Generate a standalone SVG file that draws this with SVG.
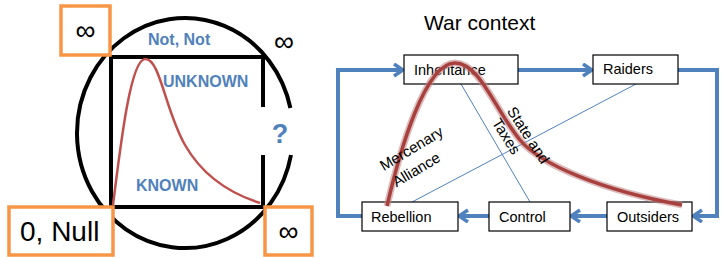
<svg xmlns="http://www.w3.org/2000/svg" width="724" height="258" viewBox="0 0 724 258">
<style>
.obox{fill:#fff;stroke:#F79646;stroke-width:3.5}
.sym{font-family:"Liberation Sans",Arial,sans-serif;font-size:28px;fill:#000;text-anchor:middle}
.blue{font-family:"Liberation Sans",Arial,sans-serif;font-weight:bold;font-size:16px;fill:#4F81BD}
.q{font-family:"Liberation Sans",Arial,sans-serif;font-weight:bold;font-size:27px;fill:#4F81BD;text-anchor:middle}
.box{fill:#fff;stroke:#000;stroke-width:1.2}
.lbl{font-family:"Liberation Sans",Arial,sans-serif;font-size:14.5px;fill:#000}
.rot{font-family:"Liberation Sans",Arial,sans-serif;font-size:15px;fill:#000;text-anchor:middle}
.flow{fill:none;stroke:#4F81BD;stroke-width:4;marker-end:url(#arr)}
.thin{fill:none;stroke:#4F81BD;stroke-width:1}
</style>
<defs>
<marker id="arr" markerUnits="userSpaceOnUse" markerWidth="14" markerHeight="16" refX="11" refY="7" orient="auto">
<path d="M2,1 L11,7 L2,13" fill="none" stroke="#4F81BD" stroke-width="3.5"/>
</marker>
</defs>
<rect width="724" height="258" fill="#fff"/>

<g id="left-figure">
<path d="M290.4,108 A108,115 0 1,0 291,155" fill="none" stroke="#000" stroke-width="4"/>
<path d="M263,107 V57 H111 V207 H263 V155" fill="none" stroke="#000" stroke-width="4"/>
<path d="M113,205 C120,150 130,60 145,59 C160,58 165,110 185,145 C205,180 235,195 260,203" fill="none" stroke="#C0504D" stroke-width="2.5"/>
<text class="blue" x="148" y="45">Not, Not</text>
<text class="blue" x="163" y="87">UNKNOWN</text>
<text class="blue" x="136" y="191">KNOWN</text>
<text class="q" x="280" y="143">?</text>
<text class="sym" x="284" y="51">∞</text>
</g>
<g id="inf-top-left">
<rect class="obox" x="61" y="6" width="49" height="49"/>
<text class="sym" x="85.5" y="40">∞</text>
</g>
<g id="zero-null">
<rect class="obox" x="9" y="207" width="104" height="48"/>
<text x="20" y="241" font-family="'Liberation Sans',Arial,sans-serif" font-size="28" fill="#000">0, Null</text>
</g>
<g id="inf-bottom-right">
<rect class="obox" x="265" y="207" width="47" height="48"/>
<text class="sym" x="288.5" y="241">∞</text>
</g>

<g id="title">
<text x="424" y="30" font-family="'Liberation Sans',Arial,sans-serif" font-size="21" fill="#000">War context</text>
</g>

<g id="connectors">
<path class="flow" d="M362,216 H338 V70 H403"/>
<path class="flow" d="M518,70 H592"/>
<path class="flow" d="M678,70 H717 V216 H693"/>
<path class="flow" d="M607,216 H571"/>
<path class="flow" d="M489,216 H459"/>
<line class="thin" x1="461" y1="84" x2="530" y2="202"/>
<line class="thin" x1="636" y1="84" x2="412" y2="202"/>
</g>

<g id="inheritance">
<rect class="box" x="404" y="55" width="114" height="29"/>
<text class="lbl" x="414" y="75">Inheritance</text>
</g>
<g id="raiders">
<rect class="box" x="593" y="55" width="85" height="29"/>
<text class="lbl" x="603" y="74">Raiders</text>
</g>
<g id="rebellion">
<rect class="box" x="362" y="202" width="96" height="29"/>
<text class="lbl" x="371" y="222">Rebellion</text>
</g>
<g id="control">
<rect class="box" x="489" y="202" width="81" height="29"/>
<text class="lbl" x="499" y="222">Control</text>
</g>
<g id="outsiders">
<rect class="box" x="607" y="202" width="85" height="29"/>
<text class="lbl" x="617" y="222">Outsiders</text>
</g>

<g id="bell-curve">
<path d="M387,206 C400,150 425,63 455,63 C480,63 495,110 520,140 C540,164 600,190 682,205" fill="none" stroke="#C08585" stroke-width="7" stroke-opacity="0.55"/>
<path d="M387,206 C400,150 425,63 455,63 C480,63 495,110 520,140 C540,164 600,190 682,205" fill="none" stroke="#A8403E" stroke-width="3.5"/>
</g>

<g id="curve-labels">
<text class="rot" transform="translate(414,153) rotate(-31)">Mercenary</text>
<text class="rot" transform="translate(419,174) rotate(-31)">Alliance</text>
<text class="rot" transform="translate(524,138) rotate(57)">State and</text>
<text class="rot" transform="translate(502,139) rotate(58)">Taxes</text>
</g>
</svg>
